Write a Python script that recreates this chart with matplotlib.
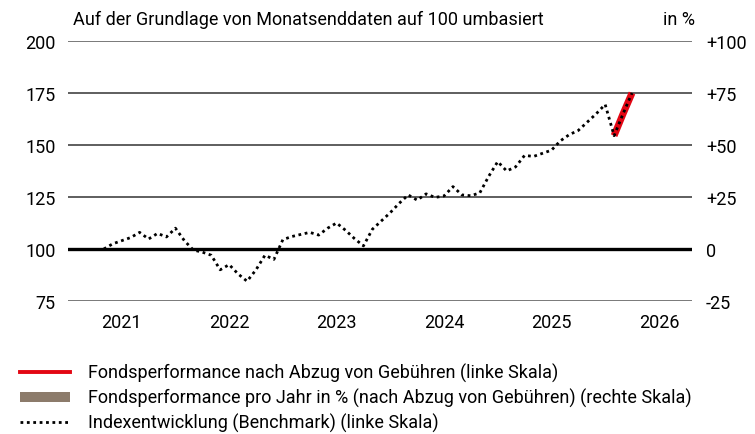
import matplotlib
matplotlib.use("Agg")
import matplotlib.pyplot as plt
from matplotlib.lines import Line2D
from matplotlib.patches import Rectangle
import numpy as np

plt.rcParams['font.family'] = ['Roboto', 'DejaVu Sans']

# months counted from Jan 2021 (0 = start of 2021)
months = np.arange(4, 64)
index_vals = [100, 102.5, 104, 105.5, 108, 104.8, 107.5, 105.8, 110, 104,
              99.5, 98.5, 97, 90, 92.5, 88, 84.5, 90, 97, 95,
              104.5, 106, 107, 108, 106.7, 110, 112.5, 109, 105, 101.5,
              109.5, 113.5, 117.5, 122, 126, 123.5, 126.5, 124.8, 125.5, 130,
              126, 125.6, 127, 135, 142, 137.5, 139.5, 145, 144.5, 146,
              147.5, 152, 155, 157, 161, 165, 169.5, 154.5, 165, 175]
fund_months = [61, 62, 63]
fund_vals = [154.5, 165, 175]

years = ['2021', '2022', '2023', '2024', '2025', '2026']
left_ticks = [75, 100, 125, 150, 175, 200]
right_labels = ['-25', '0', '+25', '+50', '+75', '+100']

fs = 13
fig = plt.figure(figsize=(7.55, 4.35), dpi=100)
ax = fig.add_axes([68/755, 133/435, 624/755, 260/435])
ax.set_xlim(0, 69.7)
ax.set_ylim(75, 200)

for v in left_ticks:
    if v == 100:
        ax.axhline(v, color='black', lw=2.4, zorder=1)
    elif v in (75, 200):
        ax.axhline(v, color='#6e6e6e', lw=1.3, zorder=1)
    else:
        ax.axhline(v, color='#333333', lw=1.1, zorder=1)

ax.plot(fund_months, fund_vals, color='#e30613', lw=5, solid_capstyle='butt', zorder=3)
ax.plot(months, index_vals, color='black', lw=2.0, linestyle=(0, (1, 1.3)), zorder=4)

for s in ax.spines.values():
    s.set_visible(False)
ax.set_yticks(left_ticks)
ax.set_yticklabels([str(v) for v in left_ticks], fontsize=fs)
ax.set_xticks([6 + 12*i for i in range(len(years))])
ax.set_xticklabels(years, fontsize=fs)
ax.tick_params(length=0, pad=9)
ax.tick_params(axis='x', pad=9)

ax2 = ax.twinx()
ax2.set_ylim(-25, 100)
ax2.set_yticks([-25, 0, 25, 50, 75, 100])
ax2.set_yticklabels(right_labels, fontsize=fs)
ax2.tick_params(length=0, pad=10)
for s in ax2.spines.values():
    s.set_visible(False)

fig.text(73/755, 1 - 20/435, 'Auf der Grundlage von Monatsenddaten auf 100 umbasiert',
         fontsize=fs, va='center', ha='left')
fig.text(695/755, 1 - 20/435, 'in %', fontsize=fs, va='center', ha='right')

# legend
rows = [373, 398, 423]
fig.add_artist(Line2D([20/755, 70/755], [1 - rows[0]/435]*2, color='#e30613', lw=2.8))
fig.add_artist(Rectangle((20/755, 1 - (rows[1] + 5)/435), 50/755, 10/435,
                         color='#8c7b6b', lw=0))
fig.add_artist(Line2D([20/755, 70/755], [1 - rows[2]/435]*2, color='black', lw=2.0,
                      linestyle=(0, (1, 1.3))))
labels = ['Fondsperformance nach Abzug von Gebühren (linke Skala)',
          'Fondsperformance pro Jahr in % (nach Abzug von Gebühren) (rechte Skala)',
          'Indexentwicklung (Benchmark) (linke Skala)']
for r, t in zip(rows, labels):
    fig.text(88/755, 1 - r/435, t, fontsize=fs, va='center', ha='left')

fig.savefig('out.png', dpi=100)
